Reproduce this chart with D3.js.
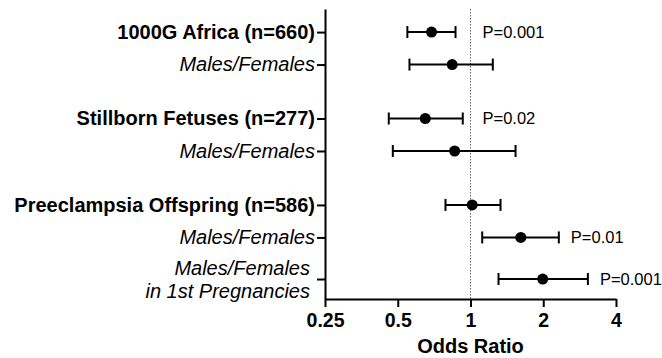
<!DOCTYPE html>
<html>
<head>
<meta charset="utf-8">
<script src="https://cdn.jsdelivr.net/npm/d3@7"></script>
<style>
  body { margin: 0; background: #fff; }
  svg { display: block; font-family: "Liberation Sans", Arial, sans-serif; }
</style>
</head>
<body>
<svg id="chart"></svg>
<script>
// rows, top to bottom
const labels = ["1000G Africa (n=660)", "Males/Females", "Stillborn Fetuses (n=277)", "Males/Females",
                "Preeclampsia Offspring (n=586)", "Males/Females", "Males/Females\nin 1st Pregnancies"];
const isGroup = [true, false, true, false, true, false, false];
const rowPos = [0, 1, 2.66, 3.66, 5.32, 6.32, 7.6];
const oddsRatio = [0.69, 0.84, 0.65, 0.86, 1.016, 1.615, 1.99];
const ciLow = [0.548, 0.559, 0.459, 0.477, 0.788, 1.118, 1.306];
const ciHigh = [0.867, 1.237, 0.929, 1.536, 1.331, 2.32, 3.06];
const pValues = ["P=0.001", "", "P=0.02", "", "", "P=0.01", "P=0.001"];
const xTicks = [0.25, 0.5, 1, 2, 4];

const width = 662;
const height = 358;
const marginTop = 9;
const marginRight = 46;
const marginBottom = 59;
const marginLeft = 325;

const data = labels.map((l, i) => ({label: l, group: isGroup[i], pos: rowPos[i],
  or: oddsRatio[i], lo: ciLow[i], hi: ciHigh[i], p: pValues[i]}));

const x = d3.scaleLog().base(2)
      .domain([0.25, 4])
      .range([marginLeft, width - marginRight]);
const y = d3.scaleLinear()
      .domain([-0.71, 8.215])
      .range([marginTop, height - marginBottom]);

const svg = d3.select("#chart")
      .attr("width", width)
      .attr("height", height)
      .attr("viewBox", [0, 0, width, height]);

// reference line at OR = 1
svg.append("line")
  .attr("x1", x(1)).attr("x2", x(1))
  .attr("y1", marginTop).attr("y2", height - marginBottom)
  .attr("stroke", "#666")
  .attr("stroke-width", 1)
  .attr("stroke-dasharray", "1.5,1.5");

// y axis with row labels
const yAxis = svg.append("g")
  .attr("transform", `translate(${marginLeft},0)`)
  .call(d3.axisLeft(y).tickValues(rowPos).tickSize(8).tickSizeOuter(0).tickPadding(2)
    .tickFormat((d, i) => labels[i]));
yAxis.select(".domain").attr("stroke-width", 2).attr("stroke", "#000");
yAxis.selectAll(".tick line").attr("stroke-width", 2).attr("stroke", "#000");
yAxis.selectAll(".tick text")
  .attr("fill", "#000")
  .attr("font-size", 20)
  .attr("font-weight", (d, i) => isGroup[i] ? "bold" : "normal")
  .attr("font-style", (d, i) => isGroup[i] ? "normal" : "italic")
  .each(function(d, i) {
    const parts = labels[i].split("\n");
    if (parts.length < 2) return;
    const t = d3.select(this).text(null).attr("dy", null);
    parts.forEach((s, k) => {
      t.append("tspan")
        .attr("x", -15)
        .attr("dy", k === 0 ? "-0.25em" : "1.15em")
        .text(s);
    });
  });

// x axis
const xAxis = svg.append("g")
  .attr("transform", `translate(0,${height - marginBottom})`)
  .call(d3.axisBottom(x).tickValues(xTicks).tickSize(8).tickSizeOuter(0).tickPadding(6)
    .tickFormat(d => d));
xAxis.select(".domain").attr("stroke-width", 2).attr("stroke", "#000");
xAxis.selectAll(".tick line").attr("stroke-width", 2).attr("stroke", "#000");
xAxis.selectAll(".tick text")
  .attr("fill", "#000")
  .attr("font-size", 19.5)
  .attr("font-weight", "bold");

svg.append("text")
  .attr("x", (x.range()[0] + x.range()[1]) / 2)
  .attr("y", height - 5)
  .attr("text-anchor", "middle")
  .attr("font-size", 20)
  .attr("font-weight", "bold")
  .attr("fill", "#000")
  .text("Odds Ratio");

// error bars
const bars = svg.append("g")
  .attr("stroke", "#000")
  .attr("stroke-width", 2)
  .selectAll("g")
  .data(data)
  .join("g");
bars.append("line")
  .attr("x1", d => x(d.lo)).attr("x2", d => x(d.hi))
  .attr("y1", d => y(d.pos)).attr("y2", d => y(d.pos));
bars.append("line")
  .attr("x1", d => x(d.lo)).attr("x2", d => x(d.lo))
  .attr("y1", d => y(d.pos) - 6).attr("y2", d => y(d.pos) + 6);
bars.append("line")
  .attr("x1", d => x(d.hi)).attr("x2", d => x(d.hi))
  .attr("y1", d => y(d.pos) - 6).attr("y2", d => y(d.pos) + 6);

svg.append("g")
  .attr("fill", "#000")
  .selectAll("circle")
  .data(data)
  .join("circle")
  .attr("cx", d => x(d.or))
  .attr("cy", d => y(d.pos))
  .attr("r", 5.5);

// p values
svg.append("g")
  .selectAll("text")
  .data(data.filter(d => d.p))
  .join("text")
  .attr("x", d => Math.max(x(1), x(d.hi)) + 12)
  .attr("y", d => y(d.pos))
  .attr("dy", "0.35em")
  .attr("font-size", 16.5)
  .attr("fill", "#000")
  .text(d => d.p);
</script>
</body>
</html>
